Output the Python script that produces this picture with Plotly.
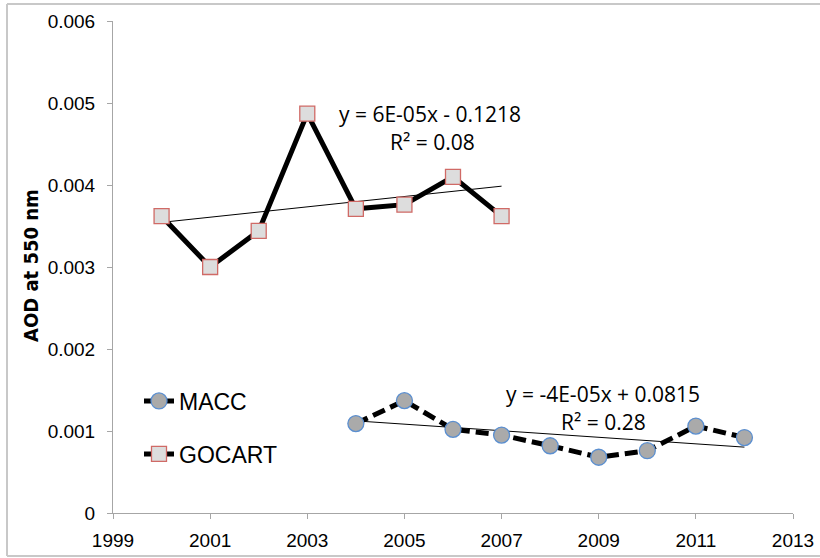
import numpy as np
import plotly.graph_objects as go

# ---- data ----
macc_years = [2004, 2005, 2006, 2007, 2008, 2009, 2010, 2011, 2012]
macc_aod = [0.00109, 0.00137, 0.00102, 0.00095, 0.00082, 0.00068, 0.00076, 0.00106, 0.00092]
gocart_years = [2000, 2001, 2002, 2003, 2004, 2005, 2006, 2007]
gocart_aod = [0.00362, 0.00300, 0.00344, 0.00487, 0.00371, 0.00376, 0.00410, 0.00362]
y_ticks = [0, 0.001, 0.002, 0.003, 0.004, 0.005, 0.006]
y_tick_labels = ["0", "0.001", "0.002", "0.003", "0.004", "0.005", "0.006"]
x_ticks = [1999, 2001, 2003, 2005, 2007, 2009, 2011, 2013]
gocart_eq = ["y = 6E-05x - 0.1218", "R² = 0.08"]
macc_eq = ["y = -4E-05x + 0.0815", "R² = 0.28"]

W, H = 820, 558
L, R, T, B = 113, 27, 21, 45

fig = go.Figure()

# trend lines (linear fits of the data)
for xs, ys in [(gocart_years, gocart_aod), (macc_years, macc_aod)]:
    k, c = np.polyfit(xs, ys, 1)
    xe = [min(xs), max(xs)]
    fig.add_trace(go.Scatter(x=xe, y=[k * v + c for v in xe], mode="lines",
                             line=dict(color="black", width=1), showlegend=False,
                             hoverinfo="skip"))

fig.add_trace(go.Scatter(
    x=macc_years, y=macc_aod, name="MACC", mode="lines+markers",
    line=dict(color="black", width=5, dash="13px,6px"),
    marker=dict(symbol="circle", size=16, color="#aaaaaa",
                line=dict(color="#5b8fd0", width=1.3)),
    legend="legend"))
fig.add_trace(go.Scatter(
    x=gocart_years, y=gocart_aod, name="GOCART", mode="lines+markers",
    line=dict(color="black", width=5),
    marker=dict(symbol="square", size=15, color="#dddddd",
                line=dict(color="#d06a66", width=1.3)),
    legend="legend2"))

pw = W - L - R
ph = H - T - B
def px_x(x):
    return (x - L) / pw
def px_y(y):
    return (H - B - y) / ph

ann_font = dict(family="Open Sans, Lato, sans-serif", size=21, color="black")
annotations = [
    dict(text=gocart_eq[0], x=px_x(430), y=px_y(114)),
    dict(text=gocart_eq[1], x=px_x(432), y=px_y(142)),
    dict(text=macc_eq[0], x=px_x(603), y=px_y(394)),
    dict(text=macc_eq[1], x=px_x(603), y=px_y(422)),
]
for a in annotations:
    a.update(xref="paper", yref="paper", showarrow=False, font=ann_font,
             xanchor="center", yanchor="middle")
annotations.append(dict(
    text="<b>AOD at 550 nm</b>", xref="paper", yref="paper",
    x=px_x(31), y=px_y(266), textangle=-90, showarrow=False,
    xanchor="center", yanchor="middle",
    font=dict(family="DejaVu Sans Condensed, DejaVu Sans, sans-serif",
              size=20, color="black")))

border = dict(color="#c8c8c8", width=2)
shapes = [
    dict(type="line", xref="paper", yref="paper", x0=px_x(7), x1=px_x(820),
         y0=px_y(4), y1=px_y(4), line=border, layer="below"),
    dict(type="line", xref="paper", yref="paper", x0=px_x(7), x1=px_x(820),
         y0=px_y(556), y1=px_y(556), line=border, layer="below"),
    dict(type="line", xref="paper", yref="paper", x0=px_x(7), x1=px_x(7),
         y0=px_y(4), y1=px_y(556), line=border, layer="below"),
]

leg_font = dict(family="Liberation Sans, Arial, sans-serif", size=23, color="black")
fig.update_layout(
    width=W, height=H,
    margin=dict(l=L, r=R, t=T, b=B, autoexpand=False),
    paper_bgcolor="white", plot_bgcolor="white",
    font=dict(family="Liberation Sans, Arial, sans-serif", size=19, color="black"),
    annotations=annotations,
    legend=dict(x=px_x(139), y=px_y(401), xanchor="left", yanchor="middle",
                font=leg_font, itemwidth=30, bgcolor="rgba(0,0,0,0)"),
    legend2=dict(x=px_x(139), y=px_y(454), xanchor="left", yanchor="middle",
                 font=leg_font, itemwidth=30, bgcolor="rgba(0,0,0,0)"),
    shapes=shapes,
    xaxis=dict(range=[1999, 2013], tickvals=x_ticks, showgrid=False, zeroline=False,
               showline=True, linecolor="#a6a6a6", linewidth=1, automargin=False,
               ticks="outside", ticklen=5, tickcolor="#a6a6a6",
               tickfont=dict(size=19), ticklabelstandoff=5),
    yaxis=dict(range=[0, 0.006], tickvals=y_ticks, ticktext=y_tick_labels,
               showgrid=False, zeroline=False, showline=True, linecolor="#a6a6a6",
               linewidth=1, ticks="outside", ticklen=5, tickcolor="#a6a6a6",
               automargin=False, tickfont=dict(size=19), ticklabelstandoff=8),
)

fig.write_html("out.html")
